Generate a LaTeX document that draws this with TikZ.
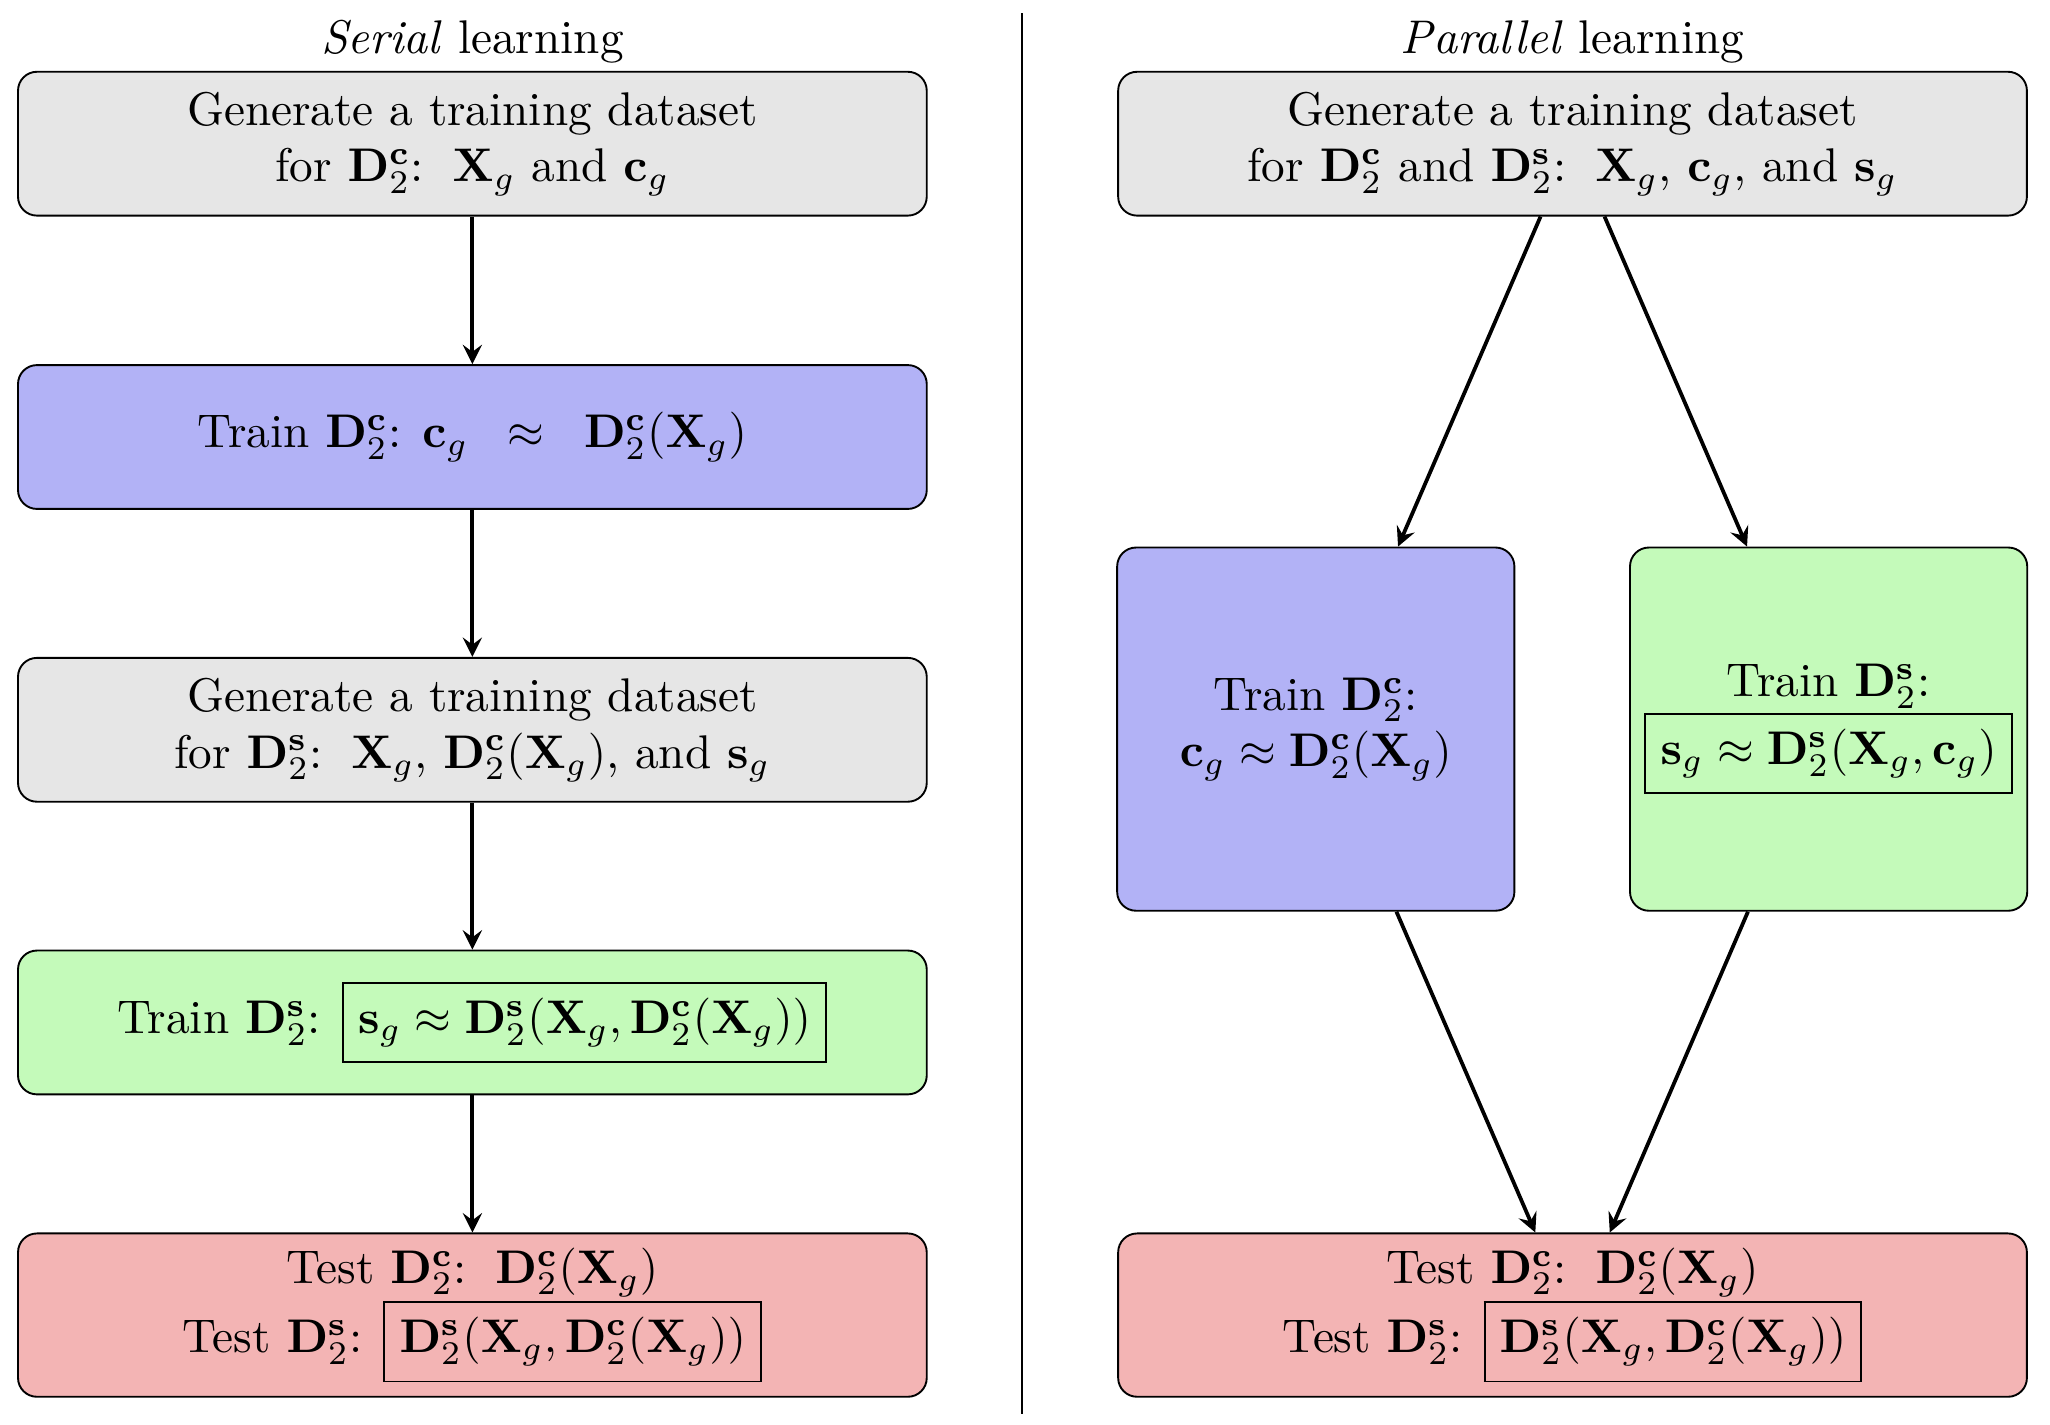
\documentclass[tikz,border=0pt]{standalone}
\usepackage{amsmath,amssymb}
\usepackage{tikz}
\usetikzlibrary{positioning}
\definecolor{gengray}{RGB}{230,230,230}
\definecolor{trainblue}{RGB}{178,178,246}
\definecolor{traingreen}{RGB}{196,250,186}
\definecolor{testred}{RGB}{243,180,180}
\tikzset{
stepbox/.style={draw, rounded corners=4pt, align=center,
    minimum width=6.76cm, minimum height=1.07cm, inner sep=2pt},
genbox/.style={stepbox, fill=gengray},
trainc/.style={stepbox, fill=trainblue},
trains/.style={stepbox, fill=traingreen},
testbox/.style={stepbox, fill=testred, minimum height=1.215cm},
tallbox/.style={minimum width=2.955cm, minimum height=2.702cm},
flow/.style={thick, -stealth},
}
\newcommand{\Dc}{\mathbf{D}_2^{\mathbf{c}}}
\newcommand{\Ds}{\mathbf{D}_2^{\mathbf{s}}}
\newcommand{\Xg}{\mathbf{X}_g}

\begin{document}
\begin{tikzpicture}
    \useasboundingbox (0,0) rectangle (15.25,-10.594);
    \draw (7.6,-0.1) -- (7.6,-10.52);
    \node (sertitle) at (3.514,-0.31) {\textit{Serial} learning};
    \node (partitle) at (11.698,-0.31) {\textit{Parallel} learning};
    \node[genbox] (sgen1) at (3.514,-1.069) {Generate a training dataset\\ for $\Dc$: \,$\Xg$ and $\mathbf{c}_g$};
    \node[trainc] (strainc) at (3.514,-3.251) {Train $\Dc$: $\mathbf{c}_g \;\;\approx\;\; \Dc(\Xg)$};
    \node[genbox] (sgen2) at (3.514,-5.429) {Generate a training dataset\\ for $\Ds$: \,$\Xg$, $\Dc(\Xg)$, and $\mathbf{s}_g$};
    \node[trains] (strains) at (3.514,-7.606) {Train $\Ds$: \fbox{$\mathbf{s}_g \approx \Ds(\Xg,\Dc(\Xg))$}};
    \node[testbox] (stest) at (3.514,-9.783) {Test $\Dc$: \,$\Dc(\Xg)$\\ Test $\Ds$: \fbox{$\Ds(\Xg,\Dc(\Xg))$}};
    \node[genbox] (pgen) at (11.698,-1.069) {Generate a training dataset\\ for $\Dc$ and $\Ds$: \,$\Xg$, $\mathbf{c}_g$, and $\mathbf{s}_g$};
    \node[trainc, tallbox] (ptrainc) at (9.788,-5.424) {Train $\Dc$:\\ $\mathbf{c}_g \approx \Dc(\Xg)$};
    \node[trains, tallbox] (ptrains) at (13.603,-5.424) {Train $\Ds$:\\ \fbox{$\mathbf{s}_g \approx \Ds(\Xg,\mathbf{c}_g)$}};
    \node[testbox] (ptest) at (11.698,-9.783) {Test $\Dc$: \,$\Dc(\Xg)$\\ Test $\Ds$: \fbox{$\Ds(\Xg,\Dc(\Xg))$}};
    \draw[flow] (sgen1) -- (strainc);
    \draw[flow] (strainc) -- (sgen2);
    \draw[flow] (sgen2) -- (strains);
    \draw[flow] (strains) -- (stest);
    \draw[flow] ([xshift=-0.238cm]pgen.south) -- ([xshift=0.612cm]ptrainc.north);
    \draw[flow] ([xshift=0.238cm]pgen.south) -- ([xshift=-0.607cm]ptrains.north);
    \draw[flow] ([xshift=0.6cm]ptrainc.south) -- ([xshift=-0.277cm]ptest.north);
    \draw[flow] ([xshift=-0.6cm]ptrains.south) -- ([xshift=0.277cm]ptest.north);
\end{tikzpicture}
\end{document}
